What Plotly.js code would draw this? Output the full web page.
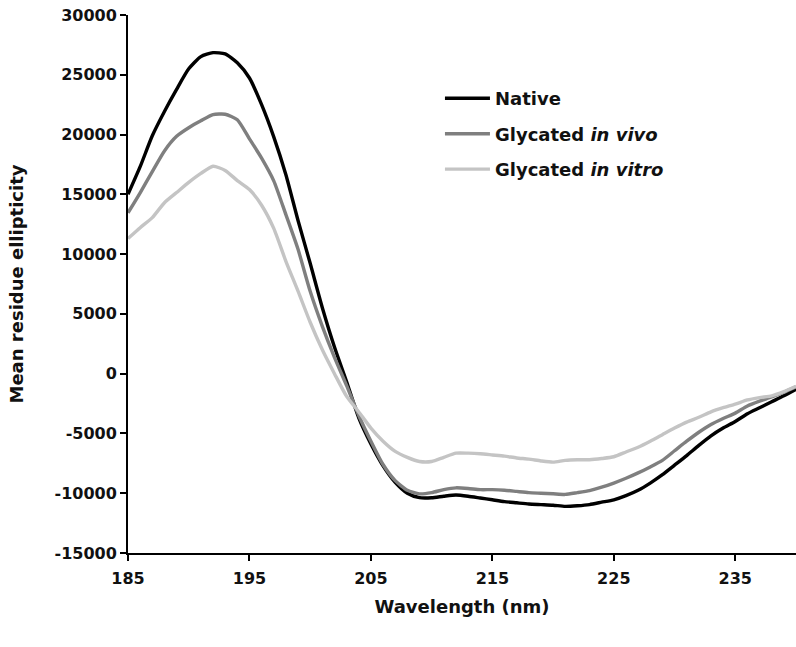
<!DOCTYPE html>
<html>
<head>
<meta charset="utf-8">
<script src="https://cdn.plot.ly/plotly-3.0.1.min.js"></script>
<style>html,body{margin:0;padding:0;background:#fff;}#chart{width:796px;height:647px;}</style>
</head>
<body>
<div id="chart"></div>
<script>
const wavelength = [185,186,187,188,189,190,191,192,193,194,195,196,197,198,199,200,201,202,203,204,205,206,207,208,209,210,211,212,213,214,215,216,217,218,219,220,221,222,223,224,225,226,227,228,229,230,231,232,233,234,235,236,237,238,239,240];

const native = [15000,17310,19900,21930,23780,25500,26520,26850,26750,26000,24730,22500,19810,16640,12810,9230,5520,2230,-670,-3700,-5880,-7710,-9090,-10000,-10370,-10380,-10250,-10150,-10250,-10400,-10550,-10700,-10800,-10900,-10950,-11000,-11100,-11050,-10950,-10750,-10550,-10200,-9750,-9150,-8450,-7650,-6850,-6000,-5200,-4550,-4000,-3350,-2850,-2350,-1850,-1300];

const glycVivo = [13450,15130,16900,18630,19850,20570,21150,21660,21700,21240,19640,18030,16130,13300,10400,6890,3960,1370,-1000,-3500,-5650,-7600,-8950,-9750,-10050,-9950,-9700,-9550,-9600,-9700,-9700,-9750,-9850,-9950,-10000,-10050,-10100,-9950,-9780,-9500,-9150,-8750,-8300,-7800,-7250,-6450,-5650,-4900,-4250,-3750,-3300,-2700,-2300,-1950,-1550,-1100];

const glycVitro = [11300,12210,13050,14300,15150,16000,16750,17350,17000,16150,15400,14090,12150,9400,6900,4300,2000,0,-1900,-3200,-4550,-5650,-6500,-7000,-7350,-7350,-7000,-6650,-6650,-6700,-6800,-6900,-7050,-7150,-7300,-7400,-7250,-7200,-7200,-7100,-6950,-6550,-6150,-5650,-5100,-4550,-4050,-3650,-3200,-2850,-2550,-2200,-2000,-1850,-1500,-1050];

const seriesNames = ['Native', 'Glycated <i>in vivo</i>', 'Glycated <i>in vitro</i>'];
const seriesColors = ['#000000', '#7f7f7f', '#c4c4c4'];
const xTicks = [185,195,205,215,225,235];
const yTicks = [-15000,-10000,-5000,0,5000,10000,15000,20000,25000,30000];

const fam = 'DejaVu Sans, Liberation Sans, Arial, sans-serif';
const tickFont = {family: fam, size: 16, color: '#111', weight: 'bold'};
const titleFont = {family: fam, size: 18, color: '#111', weight: 'bold'};
const legendFont = {family: fam, size: 18, color: '#111', weight: 'bold'};

const ys = [native, glycVivo, glycVitro];
const traces = ys.map((y, i) => ({
  x: wavelength, y: y, type: 'scatter', mode: 'lines',
  name: seriesNames[i], legendgroup: 'g' + i,
  line: {color: seriesColors[i], width: 3.4, shape: 'spline', smoothing: 0.6}
}));

const layout = {
  width: 796, height: 647,
  margin: {l: 128, r: 0, t: 15, b: 94},
  paper_bgcolor: '#fff', plot_bgcolor: '#fff',
  showlegend: true,
  legend: {x: 0.467, y: 0.879, xanchor: 'left', yanchor: 'top', bgcolor: 'rgba(0,0,0,0)',
           font: legendFont, tracegroupgap: 9, traceorder: 'grouped', itemwidth: 45},
  xaxis: {
    range: [185, 240], tickvals: xTicks, ticktext: xTicks.map(String),
    showgrid: false, zeroline: false, showline: true, linecolor: '#000', linewidth: 2,
    ticks: 'outside', ticklen: 6, tickwidth: 2, tickcolor: '#000',
    tickfont: tickFont, ticklabelstandoff: 4,
    title: {text: 'Wavelength (nm)', font: titleFont, standoff: 13}
  },
  yaxis: {
    range: [-15000, 30000], tickvals: yTicks, ticktext: yTicks.map(String),
    showgrid: false, zeroline: false, showline: true, linecolor: '#000', linewidth: 2,
    ticks: 'outside', ticklen: 6, tickwidth: 2, tickcolor: '#000',
    tickfont: tickFont,
    title: {text: 'Mean residue ellipticity', font: titleFont, standoff: 26}
  }
};

Plotly.newPlot('chart', traces, layout, {displayModeBar: false, staticPlot: true});
</script>
</body>
</html>
